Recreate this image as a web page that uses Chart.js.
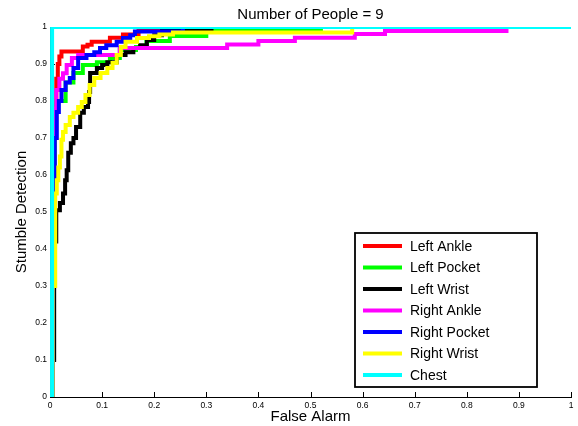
<!DOCTYPE html>
<html>
<head>
<meta charset="utf-8">
<title>Number of People = 9</title>
<script src="https://cdn.jsdelivr.net/npm/chart.js@4.4.0/dist/chart.umd.min.js"></script>
<style>
    html, body { margin: 0; padding: 0; background: #fff; }
    canvas { display: block; }
</style>
</head>
<body>
<canvas id="rocChart" width="578" height="426"></canvas>
<script>
// Stumble detection vs false alarm, 9 people

const chartTitle = 'Number of People = 9';
const xAxisLabel = 'False Alarm';
const yAxisLabel = 'Stumble Detection';

const seriesNames = ['Left Ankle', 'Left Pocket', 'Left Wrist', 'Right Ankle', 'Right Pocket', 'Right Wrist', 'Chest'];
const seriesColors = ['#ff0000', '#00ff00', '#000000', '#ff00ff', '#0000ff', '#ffff00', '#00ffff'];

// corners of each staircase: false alarm rate where the curve steps up, and the new detection rate
const leftAnkleX = [0, 0.005, 0.009, 0.012, 0.015, 0.018, 0.022, 0.063, 0.072, 0.08, 0.115, 0.14, 0.17, 0.22, 1];
const leftAnkleY = [0, 0.45, 0.80, 0.86, 0.90, 0.92, 0.934, 0.947, 0.952, 0.96, 0.971, 0.98, 0.99, 1, 1];

const leftPocketX = [0, 0.005, 0.009, 0.012, 0.03, 0.045, 0.063, 0.09, 0.115, 0.134, 0.165, 0.185, 0.23, 0.30, 0.52, 1];
const leftPocketY = [0, 0.40, 0.70, 0.80, 0.85, 0.876, 0.897, 0.905, 0.916, 0.938, 0.946, 0.962, 0.976, 0.99, 1, 1];

const leftWristX = [0, 0.005, 0.008, 0.012, 0.019, 0.025, 0.029, 0.032, 0.035, 0.04, 0.045, 0.05, 0.058, 0.065, 0.073, 0.075, 0.077, 0.09, 0.1, 0.11, 0.128, 0.145, 0.16, 0.173, 0.186, 0.2, 0.215, 0.31, 1];
const leftWristY = [0, 0.1, 0.42, 0.505, 0.524, 0.55, 0.586, 0.613, 0.66, 0.686, 0.70, 0.73, 0.768, 0.784, 0.797, 0.824, 0.876, 0.889, 0.897, 0.905, 0.924, 0.932, 0.943, 0.951, 0.965, 0.978, 0.99, 1, 1];

const rightAnkleX = [0, 0.005, 0.008, 0.012, 0.018, 0.025, 0.032, 0.042, 0.054, 0.134, 0.34, 0.40, 0.47, 0.585, 0.643, 0.88];
const rightAnkleY = [0, 0.5, 0.78, 0.83, 0.86, 0.875, 0.897, 0.916, 0.924, 0.943, 0.953, 0.962, 0.971, 0.981, 0.989, 0.989];

const rightPocketX = [0, 0.005, 0.009, 0.013, 0.017, 0.022, 0.03, 0.038, 0.045, 0.054, 0.07, 0.085, 0.096, 0.108, 0.128, 0.14, 0.154, 0.163, 0.255, 1];
const rightPocketY = [0, 0.5, 0.70, 0.77, 0.80, 0.83, 0.85, 0.862, 0.889, 0.916, 0.924, 0.932, 0.943, 0.951, 0.96, 0.97, 0.978, 0.988, 1, 1];

const rightWristX = [0, 0.005, 0.01, 0.013, 0.016, 0.019, 0.022, 0.025, 0.03, 0.038, 0.045, 0.054, 0.061, 0.068, 0.076, 0.085, 0.097, 0.11, 0.12, 0.128, 0.136, 0.145, 0.167, 0.19, 0.21, 0.236, 0.58, 1];
const rightWristY = [0, 0.3, 0.55, 0.586, 0.62, 0.65, 0.695, 0.716, 0.735, 0.757, 0.768, 0.784, 0.797, 0.816, 0.843, 0.862, 0.876, 0.889, 0.903, 0.924, 0.946, 0.96, 0.97, 0.975, 0.98, 0.985, 1, 1];

const chestX = [0, 0.004, 1];
const chestY = [0, 1, 1];

const axisTicks = [0, 0.1, 0.2, 0.3, 0.4, 0.5, 0.6, 0.7, 0.8, 0.9, 1];

const seriesX = [leftAnkleX, leftPocketX, leftWristX, rightAnkleX, rightPocketX, rightWristX, chestX];
const seriesY = [leftAnkleY, leftPocketY, leftWristY, rightAnkleY, rightPocketY, rightWristY, chestY];

const FONT = "'Liberation Sans', Arial, Helvetica, sans-serif";

function toPoints(xs, ys) {
    return xs.map((x, i) => ({ x: x, y: ys[i] }));
}

// small tick marks pointing into the plot, like the matlab axes
const inwardTicks = {
    id: 'inwardTicks',
    beforeDatasetsDraw(chart) {
        const ctx = chart.ctx;
        const xs = chart.scales.x;
        const ys = chart.scales.y;
        const area = chart.chartArea;
        ctx.save();
        ctx.strokeStyle = '#000';
        ctx.lineWidth = 1;
        ctx.beginPath();
        axisTicks.forEach(v => {
            const px = Math.round(xs.getPixelForValue(v)) + 0.5;
            ctx.moveTo(px, area.bottom);
            ctx.lineTo(px, area.bottom - 5);
            const py = Math.round(ys.getPixelForValue(v)) + 0.5;
            ctx.moveTo(area.left, py);
            ctx.lineTo(area.left + 5, py);
        });
        ctx.stroke();
        ctx.restore();
    }
};

// title over the plot area and the boxed legend in the lower right
const titleAndLegend = {
    id: 'titleAndLegend',
    afterDraw(chart) {
        const ctx = chart.ctx;
        const area = chart.chartArea;
        ctx.save();
        ctx.fillStyle = '#000';
        ctx.font = '15px ' + FONT;
        ctx.textAlign = 'center';
        ctx.textBaseline = 'middle';
        ctx.fillText(chartTitle, (area.left + area.right) / 2, 15);

        const boxX = 355, boxY = 233, boxW = 182, boxH = 154;
        ctx.fillStyle = '#fff';
        ctx.fillRect(boxX, boxY, boxW, boxH);
        ctx.strokeStyle = '#000';
        ctx.lineWidth = 1.8;
        ctx.strokeRect(boxX, boxY, boxW, boxH);

        ctx.font = '14px ' + FONT;
        ctx.textAlign = 'left';
        chart.data.datasets.forEach((ds, i) => {
            const rowY = boxY + 13 + i * 21.5;
            ctx.strokeStyle = ds.borderColor;
            ctx.lineWidth = 4;
            ctx.beginPath();
            ctx.moveTo(boxX + 8, rowY);
            ctx.lineTo(boxX + 47, rowY);
            ctx.stroke();
            ctx.fillStyle = '#000';
            ctx.fillText(ds.label, boxX + 55, rowY + 1);
        });
        ctx.restore();
    }
};

const datasets = seriesNames.map((name, i) => ({
    label: name,
    data: toPoints(seriesX[i], seriesY[i]),
    borderColor: seriesColors[i],
    backgroundColor: seriesColors[i],
    borderWidth: 4,
    stepped: true,
    pointRadius: 0,
    fill: false,
    // later series sit on top, as in the original plot
    order: seriesNames.length - i
}));

const tickFormat = v => String(Number(v.toFixed(1)));

new Chart(document.getElementById('rocChart'), {
    type: 'line',
    data: { datasets: datasets },
    options: {
        responsive: false,
        animation: false,
        layout: { padding: { top: 27, right: 7, bottom: 0, left: 0 } },
        plugins: {
            legend: { display: false },
            title: { display: false },
            tooltip: { enabled: false }
        },
        scales: {
            x: {
                type: 'linear',
                min: 0,
                max: 1,
                grid: { display: false, drawTicks: false },
                border: { display: true, color: '#000', width: 1 },
                ticks: {
                    stepSize: 0.1,
                    padding: 4,
                    color: '#000',
                    font: { family: FONT, size: 8.5 },
                    maxRotation: 0,
                    callback: tickFormat
                },
                title: {
                    display: true,
                    text: xAxisLabel,
                    color: '#000',
                    font: { family: FONT, size: 15 },
                    padding: { top: 0, bottom: 0 }
                },
                afterFit(scale) { scale.height = 29; }
            },
            y: {
                type: 'linear',
                min: 0,
                max: 1,
                grid: { display: false, drawTicks: false },
                border: { display: true, color: '#000', width: 1 },
                ticks: {
                    stepSize: 0.1,
                    padding: 3,
                    color: '#000',
                    font: { family: FONT, size: 8.5 },
                    callback: tickFormat
                },
                title: {
                    display: true,
                    text: yAxisLabel,
                    color: '#000',
                    font: { family: FONT, size: 15 },
                    padding: { top: 13, bottom: 0 }
                },
                afterFit(scale) { scale.width = 50; }
            }
        }
    },
    plugins: [inwardTicks, titleAndLegend]
});
</script>
</body>
</html>
